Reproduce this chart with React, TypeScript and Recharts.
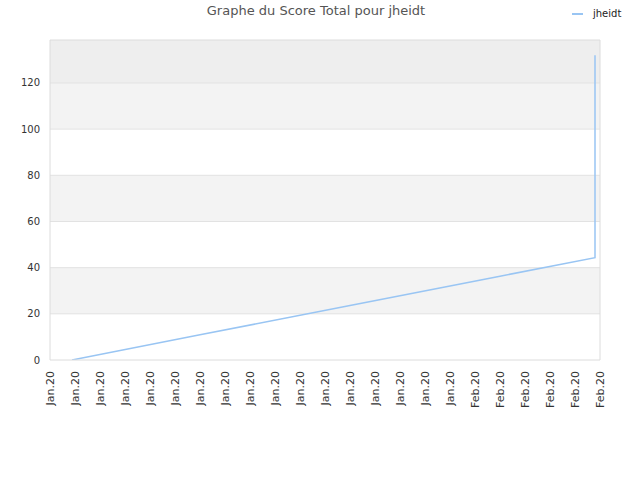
import React from "react";
import {
  LineChart,
  Line,
  XAxis,
  YAxis,
  ReferenceArea,
  ReferenceLine,
} from "recharts";

const tickLabels: string[] = [
  "Jan.20", "Jan.20", "Jan.20", "Jan.20", "Jan.20", "Jan.20", "Jan.20", "Jan.20",
  "Jan.20", "Jan.20", "Jan.20", "Jan.20", "Jan.20", "Jan.20", "Jan.20", "Jan.20",
  "Jan.20", "Feb.20", "Feb.20", "Feb.20", "Feb.20", "Feb.20", "Feb.20",
];
const tickPositions: number[] = tickLabels.map((_, i) => i);

const dayIndex: number[] = [0.88, 6, 12, 18, 21.8, 21.8];
const scoreValues: number[] = [0, 10.9, 23.6, 36.3, 44.3, 132];

const yTicks: number[] = [0, 20, 40, 60, 80, 100, 120];
const bands: { y1: number; y2: number; fill: string }[] = [
  { y1: 20, y2: 40, fill: "#f3f3f3" },
  { y1: 60, y2: 80, fill: "#f3f3f3" },
  { y1: 100, y2: 120, fill: "#f3f3f3" },
  { y1: 120, y2: 138.6, fill: "#eeeeee" },
];

const seriesName = "jheidt";
const data = dayIndex.map((d, i) => ({ day: d, score: scoreValues[i] }));

const FONT = "'DejaVu Sans', sans-serif";

const XTick = (props: any) => {
  const { x, y, payload } = props;
  return (
    <text
      x={x}
      y={y}
      transform={`rotate(-90, ${x}, ${y})`}
      textAnchor="end"
      dy="0.35em"
      fontSize={11}
      fontFamily={FONT}
      fill="#333"
    >
      {tickLabels[payload.value]}
    </text>
  );
};

export default function App() {
  return (
    <div style={{ position: "absolute", left: 0, top: 0, width: 640, height: 480, background: "#fff" }}>
      <div
        style={{
          position: "absolute",
          left: 0,
          width: 632,
          top: 3,
          textAlign: "center",
          fontFamily: FONT,
          fontSize: 13,
          color: "#555",
        }}
      >
        Graphe du Score Total pour jheidt
      </div>
      <div
        style={{
          position: "absolute",
          left: 572,
          top: 8,
          display: "flex",
          alignItems: "center",
          fontFamily: FONT,
          fontSize: 10,
          color: "#222",
        }}
      >
        <span style={{ display: "inline-block", width: 11, height: 2, background: "#99c5f3", marginRight: 10 }} />
        <span>{seriesName}</span>
      </div>
      <LineChart width={640} height={480} data={data} margin={{ top: 40, right: 40, bottom: 0, left: 0 }}>
        {bands.map((b, i) => (
          <ReferenceArea key={i} y1={b.y1} y2={b.y2} fill={b.fill} fillOpacity={1} stroke="none" />
        ))}
        {yTicks.slice(1).map((t) => (
          <ReferenceLine key={t} y={t} stroke="#e2e2e2" strokeWidth={1} />
        ))}
        <ReferenceLine y={138.6} stroke="#dcdcdc" strokeWidth={1} />
        <ReferenceLine x={22} stroke="#dcdcdc" strokeWidth={1} />
        <XAxis
          dataKey="day"
          type="number"
          domain={[0, 22]}
          ticks={tickPositions}
          interval={0}
          tick={<XTick />}
          tickLine={false}
          tickSize={0}
          tickMargin={11}
          axisLine={{ stroke: "#dcdcdc" }}
          height={120}
          allowDataOverflow
        />
        <YAxis
          type="number"
          domain={[0, 138.6]}
          ticks={yTicks}
          interval={0}
          tickLine={false}
          tickSize={0}
          tickMargin={10}
          axisLine={{ stroke: "#dcdcdc" }}
          width={50}
          tick={{ fontSize: 10, fontFamily: FONT, fill: "#333" }}
          allowDataOverflow
        />
        <Line
          type="linear"
          dataKey="score"
          name={seriesName}
          stroke="#99c5f3"
          strokeWidth={1.5}
          dot={false}
          isAnimationActive={false}
        />
      </LineChart>
    </div>
  );
}
